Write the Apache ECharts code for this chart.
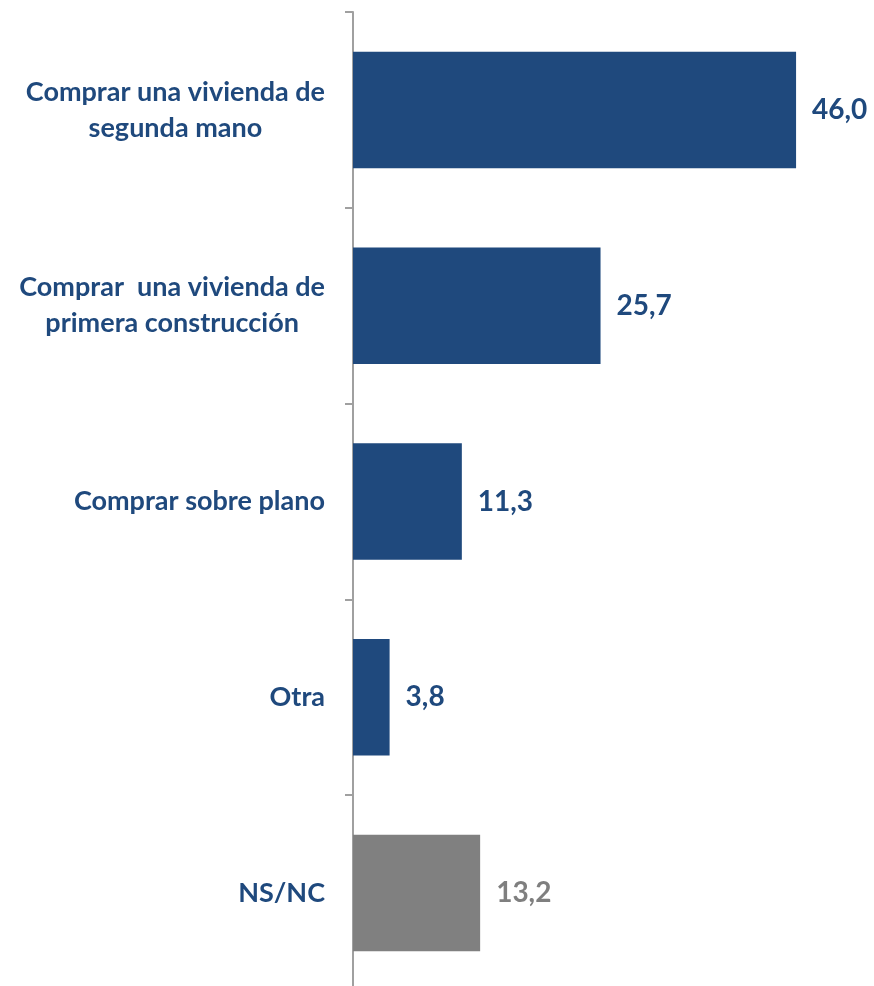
<!DOCTYPE html>
<html><head><meta charset="utf-8">
<script src="https://cdn.jsdelivr.net/npm/echarts@6/dist/echarts.min.js"></script>
<style>html,body{margin:0;padding:0;background:#fff;overflow:hidden}#c{width:874px;height:995px}</style>
</head><body><div id="c"></div>
<script>
const categories = ['Comprar una vivienda de\nsegunda mano', 'Comprar  una vivienda de\nprimera construcción', 'Comprar sobre plano', 'Otra', 'NS/NC'];
const values = [46.0, 25.7, 11.3, 3.8, 13.2];
const barColors = ['#1F497D', '#1F497D', '#1F497D', '#1F497D', '#808080'];
const labelColors = ['#1F497D', '#1F497D', '#1F497D', '#1F497D', '#7F7F7F'];

const chart = echarts.init(document.getElementById('c'));
chart.setOption({
  animation: false,
  grid: {left: 353, top: 12, width: 481.6, height: 979, containLabel: false},
  xAxis: {type: 'value', min: 0, max: 50, show: false},
  yAxis: {
    type: 'category', data: categories, inverse: true,
    axisLine: {show: true, lineStyle: {color: '#A0A0A0', width: 2}},
    axisTick: {show: true, length: 8, lineStyle: {color: '#A0A0A0', width: 2}},
    axisLabel: {
      margin: 28, align: 'right',
      formatter: v => v.split('\n').map(l => '{c|' + l + '}').join('\n'),
      rich: {c: {align: 'center', fontFamily: 'Lato', fontWeight: 'bold', fontSize: 27, lineHeight: 36, color: '#1F497D'}}
    }
  },
  series: [{
    type: 'bar', barWidth: 116.5,
    data: values.map((v, i) => ({value: v, itemStyle: {color: barColors[i]}, label: {color: labelColors[i]}})),
    label: {show: true, position: 'right', distance: 16, fontFamily: 'Lato', fontWeight: 'bold', fontSize: 28,
      formatter: p => p.value.toFixed(1).replace('.', ',')}
  }]
});
</script></body></html>
